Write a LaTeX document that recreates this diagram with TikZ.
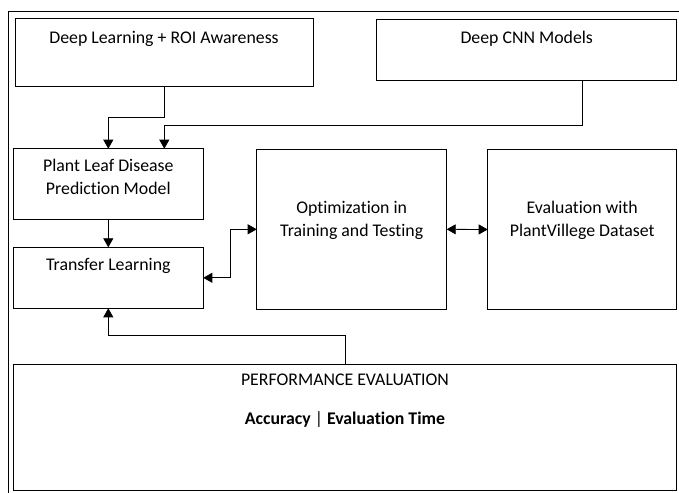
\documentclass[tikz,border=0pt]{standalone}
\usepackage{fontspec}
\setmainfont{Carlito}[Ligatures=CommonOff]
\usetikzlibrary{arrows.meta,fit}
\begin{document}
\begin{tikzpicture}[x=1pt,y=-1pt,
  box/.style={draw, line width=0.8pt, inner sep=0pt, outer sep=0pt},
  lbl/.style={font=\fontsize{17.8}{22.6}\selectfont, align=center, inner sep=0pt, anchor=base},
  conn/.style={line width=0.8pt, -{Triangle[length=9pt,width=10pt]}},
  dconn/.style={line width=0.8pt, {Triangle[length=9pt,width=10pt]}-{Triangle[length=9pt,width=10pt]}}]
\useasboundingbox (0,0) rectangle (679,492);
% outer frame (cropped)
\draw[line width=0.8pt] (8,505) -- (8,11) -- (690,11);
% boxes
\node[box, fit={(15,18.7) (313,86)}] (b1) {};
\node[box, fit={(376.7,19) (676.7,80.7)}] (b2) {};
\node[box, fit={(13.3,148.7) (203.3,219.3)}] (b3) {};
\node[box, fit={(13.3,247.3) (203.3,308.3)}] (b4) {};
\node[box, fit={(256.7,149.3) (446.7,309.3)}] (b5) {};
\node[box, fit={(487.7,149.7) (676.7,309.3)}] (b6) {};
\node[box, fit={(13.3,364) (676.7,490.7)}] (b7) {};
% labels (anchor = baseline of the last line)
\node[lbl] (t1) at (164,43.5) {Deep Learning + ROI Awareness};
\node[lbl] (t2) at (526.7,43.5) {Deep CNN Models};
\node[lbl] (t3) at (108.3,194.3) {Plant Leaf Disease\\Prediction Model};
\node[lbl] (t4) at (108.3,270.7) {Transfer Learning};
\node[lbl] (t5) at (351.7,236) {Optimization in\\Training and Testing};
\node[lbl] (t6) at (582.2,236) {Evaluation with\\PlantVillege Dataset};
\node[lbl] (t7) at (345,385) {PERFORMANCE EVALUATION};
\node[lbl] (t8) at (345,424) {\textbf{Accuracy} | \textbf{Evaluation Time}};
% connectors
\draw[conn] (b1.south) -- ++(0,31) -| (b3.north);
\draw[conn] ([xshift=56pt]b2.south) -- ++(0,44.6) -| ([xshift=56pt]b3.north);
\draw[conn] (b3.south) -- (b4.north);
\draw[dconn] (b4.east) -- ++(27.4,0) |- (b5.west);
\draw[dconn] (b5.east) -- (b6.west);
\draw[conn] (b7.north) -- ++(0,-28.3) -| (b4.south);
\end{tikzpicture}
\end{document}
